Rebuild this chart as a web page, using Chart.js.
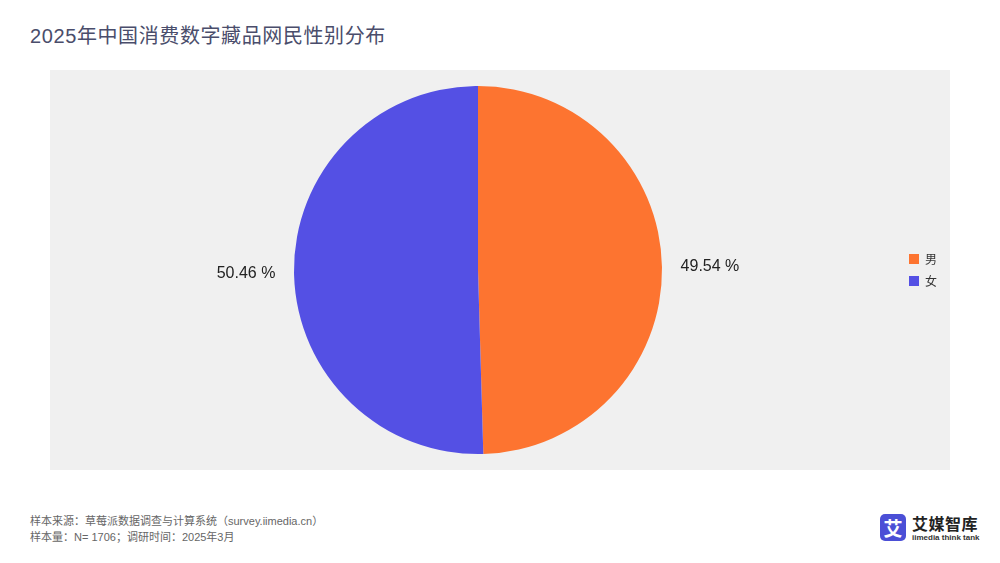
<!DOCTYPE html>
<html>
<head>
<meta charset="utf-8">
<script src="https://cdn.jsdelivr.net/npm/chart.js@4/dist/chart.umd.min.js"></script>
<style>
  body { margin: 0; width: 1000px; height: 563px; background: #fff; position: relative; overflow: hidden;
         font-family: "Liberation Sans", "Noto Sans CJK SC", sans-serif; }
  .title { position: absolute; left: 30px; top: 20px; font-size: 20px; color: #4a4d6b; letter-spacing: 0.6px;
           font-family: "Liberation Sans", "Noto Sans CJK SC", sans-serif; }
  .panel { position: absolute; left: 50px; top: 70px; width: 900px; height: 400px; background: #f0f0f0; }
  .note { position: absolute; left: 30px; font-size: 11px; color: #666; }
  .logo { position: absolute; left: 880px; top: 514px; }
  .logo .mark { position: absolute; left: 0; top: 0; width: 26px; height: 27px; border-radius: 5px; background: #4b4fd6;
                color: #fff; font-size: 19px; font-weight: bold; text-align: center; line-height: 27px;
                font-family: "Noto Sans CJK SC", sans-serif; }
  .logo .name { position: absolute; left: 32px; top: -3px; font-size: 16px; font-weight: bold; color: #222; white-space: nowrap;
                font-family: "Noto Sans CJK SC", sans-serif; letter-spacing: 0.5px; }
  .logo .sub { position: absolute; left: 32px; top: 19px; font-size: 8px; font-weight: bold; color: #333; white-space: nowrap; }
</style>
</head>
<body>
<div class="title">2025年中国消费数字藏品网民性别分布</div>
<div class="panel"><canvas id="chart" width="900" height="400"></canvas></div>
<div class="note" style="top:512px">样本来源：草莓派数据调查与计算系统（survey.iimedia.cn）</div>
<div class="note" style="top:528px">样本量：N= 1706；调研时间：2025年3月</div>
<div class="logo">
  <div class="mark">艾</div>
  <div class="name">艾媒智库</div>
  <div class="sub">iimedia think tank</div>
</div>
<script>
const categories = ["男", "女"];
const shares = [49.54, 50.46];
const colors = ["#fd7430", "#5450e4"];

// percentage labels placed outside each slice
const outsideLabels = {
  id: "outsideLabels",
  afterDatasetsDraw(chart) {
    const ctx = chart.ctx;
    const meta = chart.getDatasetMeta(0);
    ctx.save();
    ctx.font = "16px 'Liberation Sans', sans-serif";
    ctx.fillStyle = "#222";
    ctx.textAlign = "center";
    ctx.textBaseline = "middle";
    meta.data.forEach((arc, i) => {
      const mid = (arc.startAngle + arc.endAngle) / 2;
      const r = arc.outerRadius + 48;
      const x = arc.x + Math.cos(mid) * r;
      const y = arc.y + Math.sin(mid) * r;
      ctx.fillText(shares[i].toFixed(2) + " %", x, y);
    });
    ctx.restore();
  }
};

new Chart(document.getElementById("chart"), {
  type: "pie",
  data: {
    labels: categories,
    datasets: [{
      data: shares,
      backgroundColor: colors,
      borderWidth: 0
    }]
  },
  options: {
    responsive: false,
    animation: false,
    layout: { padding: { top: 16, bottom: 16, left: 7, right: 3 } },
    plugins: {
      legend: {
        position: "right",
        labels: {
          boxWidth: 10,
          boxHeight: 10,
          padding: 10,
          color: "#333",
          font: { size: 12, family: "'Noto Sans CJK SC', sans-serif" }
        }
      },
      tooltip: { enabled: false }
    }
  },
  plugins: [outsideLabels]
});
</script>
</body>
</html>
